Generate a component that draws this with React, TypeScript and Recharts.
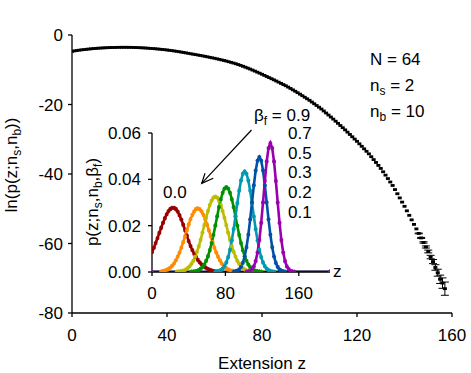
import React from 'react';
import { ScatterChart, Scatter, XAxis, YAxis, ErrorBar, LineChart, Line } from 'recharts';

// ---------- main chart data: ln p(z; ns, nb) vs extension z (z = 0,1,2,...) ----------
const mainZStart = 0;
const mainLnP = [
  -4.70, -4.58, -4.47, -4.37, -4.28, -4.20, -4.12, -4.05, -3.98, -3.91,
  -3.85, -3.80, -3.76, -3.72, -3.68, -3.65, -3.62, -3.60, -3.58, -3.56,
  -3.55, -3.54, -3.54, -3.54, -3.55, -3.56, -3.58, -3.61, -3.64, -3.67,
  -3.71, -3.75, -3.80, -3.85, -3.90, -3.96, -4.02, -4.09, -4.16, -4.23,
  -4.31, -4.40, -4.49, -4.59, -4.69, -4.80, -4.91, -5.03, -5.15, -5.27,
  -5.40, -5.52, -5.64, -5.76, -5.88, -6.01, -6.14, -6.28, -6.42, -6.56,
  -6.70, -6.85, -7.01, -7.17, -7.33, -7.50, -7.69, -7.88, -8.08, -8.28,
  -8.50, -8.75, -9.00, -9.26, -9.53, -9.80, -10.10, -10.39, -10.69, -10.99,
  -11.30, -11.62, -11.94, -12.26, -12.58, -12.90, -13.24, -13.58, -13.92, -14.26,
  -14.60, -14.99, -15.38, -15.78, -16.19, -16.60, -17.03, -17.47, -17.91, -18.35,
  -18.80, -19.29, -19.79, -20.29, -20.79, -21.30, -21.87, -22.45, -23.03, -23.61,
  -24.20, -24.81, -25.43, -26.05, -26.67, -27.30, -27.96, -28.62, -29.28, -29.94,
  -30.60, -31.31, -32.03, -32.75, -33.47, -34.20, -35.02, -35.85, -36.68, -37.53,
  -38.40, -39.36, -40.33, -41.31, -42.30, -43.30, -44.48, -45.68, -46.88, -48.09,
  -49.30, -50.60, -51.90, -53.20, -54.50, -55.80, -57.10, -58.40, -59.70, -61.00,
  -62.30, -63.90, -65.20, -66.90, -68.40, -70.30, -71.40, -73.00,
];
// error bars on the last points of the main curve
const mainErrTail = [0.1, 0.15, 0.2, 0.3, 0.4, 0.5, 0.6, 0.8, 1.0, 1.2, 1.5, 1.9];

const mainXTicks = [0, 40, 80, 120, 160];
const mainYTicks = [-80, -60, -40, -20, 0];

// ---------- inset data: p(z; ns, nb, beta_f), sampled every 2 in z ----------
const insetXTicks = [0, 80, 160];
const insetYTicks = [0, 0.02, 0.04, 0.06];
const insetZMax = 194;
const betaValues = ['0.0', '0.1', '0.2', '0.3', '0.5', '0.7', '0.9'];
const seriesStartZ = [0, 10, 27, 43, 69, 89, 103];

const pBeta00 = [
  0.0086, 0.0104, 0.0125, 0.0146, 0.0169, 0.0191, 0.0212, 0.0232, 0.0249, 0.0263,
  0.0272, 0.0277, 0.0277, 0.0272, 0.0261, 0.0245, 0.0226, 0.0204, 0.0181, 0.0157,
  0.0133, 0.0112, 0.0094, 0.0078, 0.0064, 0.0052, 0.0042, 0.0033, 0.0026, 0.0020,
  0.0015, 0.0011, 0.0008, 0.0005, 0.0003, 0.0002, 0.0001, 0,
];
const pBeta01 = [
  0.0002, 0.0004, 0.0006, 0.0009, 0.0013, 0.0019, 0.0027, 0.0037, 0.0050, 0.0066,
  0.0084, 0.0105, 0.0129, 0.0154, 0.0180, 0.0205, 0.0228, 0.0247, 0.0262, 0.0272,
  0.0275, 0.0271, 0.0262, 0.0247, 0.0228, 0.0205, 0.0180, 0.0154, 0.0129, 0.0105,
  0.0084, 0.0066, 0.0050, 0.0037, 0.0027, 0.0019, 0.0013, 0.0009, 0.0006, 0.0004,
  0.0002, 0.0001,
];
const pBeta02 = [
  0.0001, 0.0002, 0.0003, 0.0004, 0.0007, 0.0011, 0.0017, 0.0024, 0.0035, 0.0048,
  0.0066, 0.0087, 0.0111, 0.0139, 0.0170, 0.0202, 0.0234, 0.0263, 0.0289, 0.0308,
  0.0321, 0.0325, 0.0321, 0.0308, 0.0289, 0.0263, 0.0234, 0.0202, 0.0170, 0.0139,
  0.0111, 0.0087, 0.0066, 0.0048, 0.0035, 0.0024, 0.0017, 0.0011, 0.0007, 0.0004,
  0.0003, 0.0002, 0.0001,
];
const pBeta03 = [
  0.0001, 0.0002, 0.0003, 0.0005, 0.0008, 0.0014, 0.0021, 0.0032, 0.0048, 0.0068,
  0.0094, 0.0125, 0.0160, 0.0200, 0.0240, 0.0280, 0.0314, 0.0342, 0.0360, 0.0366,
  0.0360, 0.0342, 0.0314, 0.0280, 0.0240, 0.0200, 0.0160, 0.0125, 0.0094, 0.0068,
  0.0048, 0.0032, 0.0021, 0.0014, 0.0008, 0.0005, 0.0003, 0.0002, 0.0001,
];
const pBeta05 = [
  0.0001, 0.0002, 0.0004, 0.0008, 0.0014, 0.0025, 0.0041, 0.0064, 0.0095, 0.0136,
  0.0185, 0.0240, 0.0297, 0.0351, 0.0395, 0.0424, 0.0434, 0.0424, 0.0395, 0.0351,
  0.0297, 0.0240, 0.0185, 0.0136, 0.0095, 0.0064, 0.0041, 0.0025, 0.0014, 0.0008,
  0.0004, 0.0002, 0.0001,
];
const pBeta07 = [
  0.0001, 0.0003, 0.0006, 0.0011, 0.0022, 0.0039, 0.0067, 0.0107, 0.0161, 0.0227,
  0.0301, 0.0374, 0.0438, 0.0481, 0.0496, 0.0481, 0.0438, 0.0374, 0.0301, 0.0227,
  0.0161, 0.0107, 0.0067, 0.0039, 0.0022, 0.0011, 0.0006, 0.0003, 0.0001,
];
const pBeta09 = [
  0.0001, 0.0002, 0.0005, 0.0012, 0.0024, 0.0047, 0.0084, 0.0138, 0.0212, 0.0300,
  0.0393, 0.0477, 0.0535, 0.0556, 0.0535, 0.0477, 0.0393, 0.0300, 0.0212, 0.0138,
  0.0084, 0.0047, 0.0024, 0.0012, 0.0005, 0.0002, 0.0001,
];
const insetValues = [pBeta00, pBeta01, pBeta02, pBeta03, pBeta05, pBeta07, pBeta09];
const insetColors = ['#990000', '#FF8C00', '#BDBD00', '#009000', '#0099B0', '#0050A8', '#9A00B0'];

// ---------- build library tables ----------
const tailStart = mainLnP.length - mainErrTail.length;
const mainData = mainLnP.map((y, i) => ({
  z: mainZStart + i,
  y,
  err: i >= tailStart ? mainErrTail[i - tailStart] : undefined,
}));

const insetSeries = insetValues.map((vals, s) => {
  const start = seriesStartZ[s];
  const pts = vals.map((p, i) => ({ z: start + 2 * i, p }));
  const out = [] as { z: number; p: number }[];
  if (start > 0) out.push({ z: 0, p: 0 });
  out.push(...pts);
  out.push({ z: insetZMax, p: 0 });
  return out;
});

const FONT = 'Arial, "Liberation Sans", Helvetica, sans-serif';
const tickStyle = { fontSize: 17, fill: '#000', fontFamily: FONT };
const axisStroke = { stroke: '#000', strokeWidth: 1.3 };

const Dash = (props: any) => {
  const { cx, cy } = props;
  if (cx == null || cy == null) return <g />;
  return <rect x={cx - 2} y={cy - 1.4} width={4} height={2.8} fill="#000" />;
};
const Nothing = () => <g />;

const makeStar = (color: string) => (props: any) => {
  const { cx, cy, index } = props;
  if (cx == null || cy == null) return <g key={index} />;
  return (
    <path
      key={index}
      d={`M${cx - 2},${cy}H${cx + 2}M${cx},${cy - 2.2}V${cy + 2.2}M${cx - 1.5},${cy - 1.5}L${cx + 1.5},${cy + 1.5}M${cx - 1.5},${cy + 1.5}L${cx + 1.5},${cy - 1.5}`}
      stroke={color}
      strokeWidth={1.1}
      fill="none"
    />
  );
};

export default function App() {
  return (
    <div style={{ position: 'absolute', left: 0, top: 0, width: 471, height: 373, background: '#fff' }}>
      <div style={{ position: 'absolute', left: 0, top: 0 }}>
        <ScatterChart width={471} height={373} margin={{ top: 35, right: 19, bottom: 30, left: 0 }}>
          <XAxis
            xAxisId="b"
            type="number"
            dataKey="z"
            domain={[0, 160]}
            ticks={mainXTicks}
            height={30}
            tickSize={4}
            tickMargin={12}
            tick={tickStyle}
            axisLine={axisStroke}
            tickLine={axisStroke}
            allowDataOverflow
          />
          <XAxis
            xAxisId="t"
            orientation="top"
            type="number"
            dataKey="z"
            domain={[0, 160]}
            ticks={mainXTicks}
            height={0}
            tickSize={4}
            tickFormatter={() => ''}
            axisLine={axisStroke}
            tickLine={axisStroke}
            allowDataOverflow
          />
          <YAxis
            yAxisId="l"
            type="number"
            dataKey="y"
            domain={[-80, 0]}
            ticks={mainYTicks}
            width={72}
            tickSize={4}
            tickMargin={5}
            tick={tickStyle}
            axisLine={axisStroke}
            tickLine={axisStroke}
            allowDataOverflow
          />
          <YAxis
            yAxisId="r"
            orientation="right"
            type="number"
            dataKey="y"
            domain={[-80, 0]}
            ticks={mainYTicks}
            width={0}
            tickSize={4}
            tickFormatter={() => ''}
            axisLine={axisStroke}
            tickLine={axisStroke}
            allowDataOverflow
          />
          <Scatter xAxisId="t" yAxisId="r" data={mainData} shape={Nothing} isAnimationActive={false} />
          <Scatter xAxisId="b" yAxisId="l" data={mainData} shape={Dash} fill="#000" isAnimationActive={false}>
            <ErrorBar dataKey="err" direction="y" width={4} stroke="#000" strokeWidth={1} />
          </Scatter>
        </ScatterChart>
      </div>

      <div style={{ position: 'absolute', left: 0, top: 0 }}>
        <LineChart width={471} height={373} margin={{ top: 133, right: 141, bottom: 71, left: 0 }}>
          <XAxis
            type="number"
            dataKey="z"
            domain={[0, insetZMax]}
            ticks={insetXTicks}
            height={30}
            tickSize={4}
            tickMargin={11}
            tick={tickStyle}
            axisLine={axisStroke}
            tickLine={axisStroke}
            allowDataOverflow
          />
          <YAxis
            type="number"
            dataKey="p"
            domain={[0, 0.06]}
            ticks={insetYTicks}
            width={152}
            tickSize={4}
            tickMargin={7}
            tick={tickStyle}
            tickFormatter={(v: number) => v.toFixed(2)}
            axisLine={axisStroke}
            tickLine={axisStroke}
            allowDataOverflow
          />
          {insetSeries.map((data, s) => (
            <Line
              key={betaValues[s]}
              data={data}
              dataKey="p"
              type="linear"
              stroke={insetColors[s]}
              strokeWidth={2.6}
              dot={makeStar(insetColors[s])}
              activeDot={false}
              isAnimationActive={false}
            />
          ))}
        </LineChart>
      </div>

      <svg
        width={471}
        height={373}
        style={{ position: 'absolute', left: 0, top: 0, pointerEvents: 'none' }}
        fontFamily={FONT}
        fontSize={17}
        fill="#000"
      >
        {/* main axis titles */}
        <text x={262} y={369} textAnchor="middle">Extension z</text>
        <text transform="rotate(-90)" x={-165} y={17} textAnchor="middle">
          <tspan>ln(p(z;n</tspan>
          <tspan fontSize={12} dy={4}>s</tspan>
          <tspan dy={-4}>,n</tspan>
          <tspan fontSize={12} dy={4}>b</tspan>
          <tspan dy={-4}>))</tspan>
        </text>
        {/* main annotations */}
        <text x={370} y={65}>N = 64</text>
        <text x={370} y={91}>
          <tspan>n</tspan>
          <tspan fontSize={12} dy={4}>s</tspan>
          <tspan dy={-4}> = 2</tspan>
        </text>
        <text x={370} y={117}>
          <tspan>n</tspan>
          <tspan fontSize={12} dy={4}>b</tspan>
          <tspan dy={-4}> = 10</tspan>
        </text>
        {/* inset titles */}
        <text x={333} y={277}>z</text>
        <text transform="rotate(-90)" x={-202} y={98} textAnchor="middle">
          <tspan>p(z;n</tspan>
          <tspan fontSize={12} dy={4}>s</tspan>
          <tspan dy={-4}>,n</tspan>
          <tspan fontSize={12} dy={4}>b</tspan>
          <tspan dy={-4}>,β</tspan>
          <tspan fontSize={12} dy={4}>f</tspan>
          <tspan dy={-4}>)</tspan>
        </text>
        {/* inset annotations */}
        <text x={163} y={198}>0.0</text>
        <text x={254} y={121}>
          <tspan>β</tspan>
          <tspan fontSize={12} dy={4}>f</tspan>
          <tspan dy={-4}> = 0.9</tspan>
        </text>
        <text x={288} y={139}>0.7</text>
        <text x={288} y={159}>0.5</text>
        <text x={288} y={178}>0.3</text>
        <text x={288} y={198}>0.2</text>
        <text x={288} y={218}>0.1</text>
        <g stroke="#000" strokeWidth={1.2} fill="none">
          <line x1={251.5} y1={130} x2={201.7} y2={183.3} />
          <polyline points="205,173.3 201.7,183.3 213.3,178.3" />
        </g>
      </svg>
    </div>
  );
}
